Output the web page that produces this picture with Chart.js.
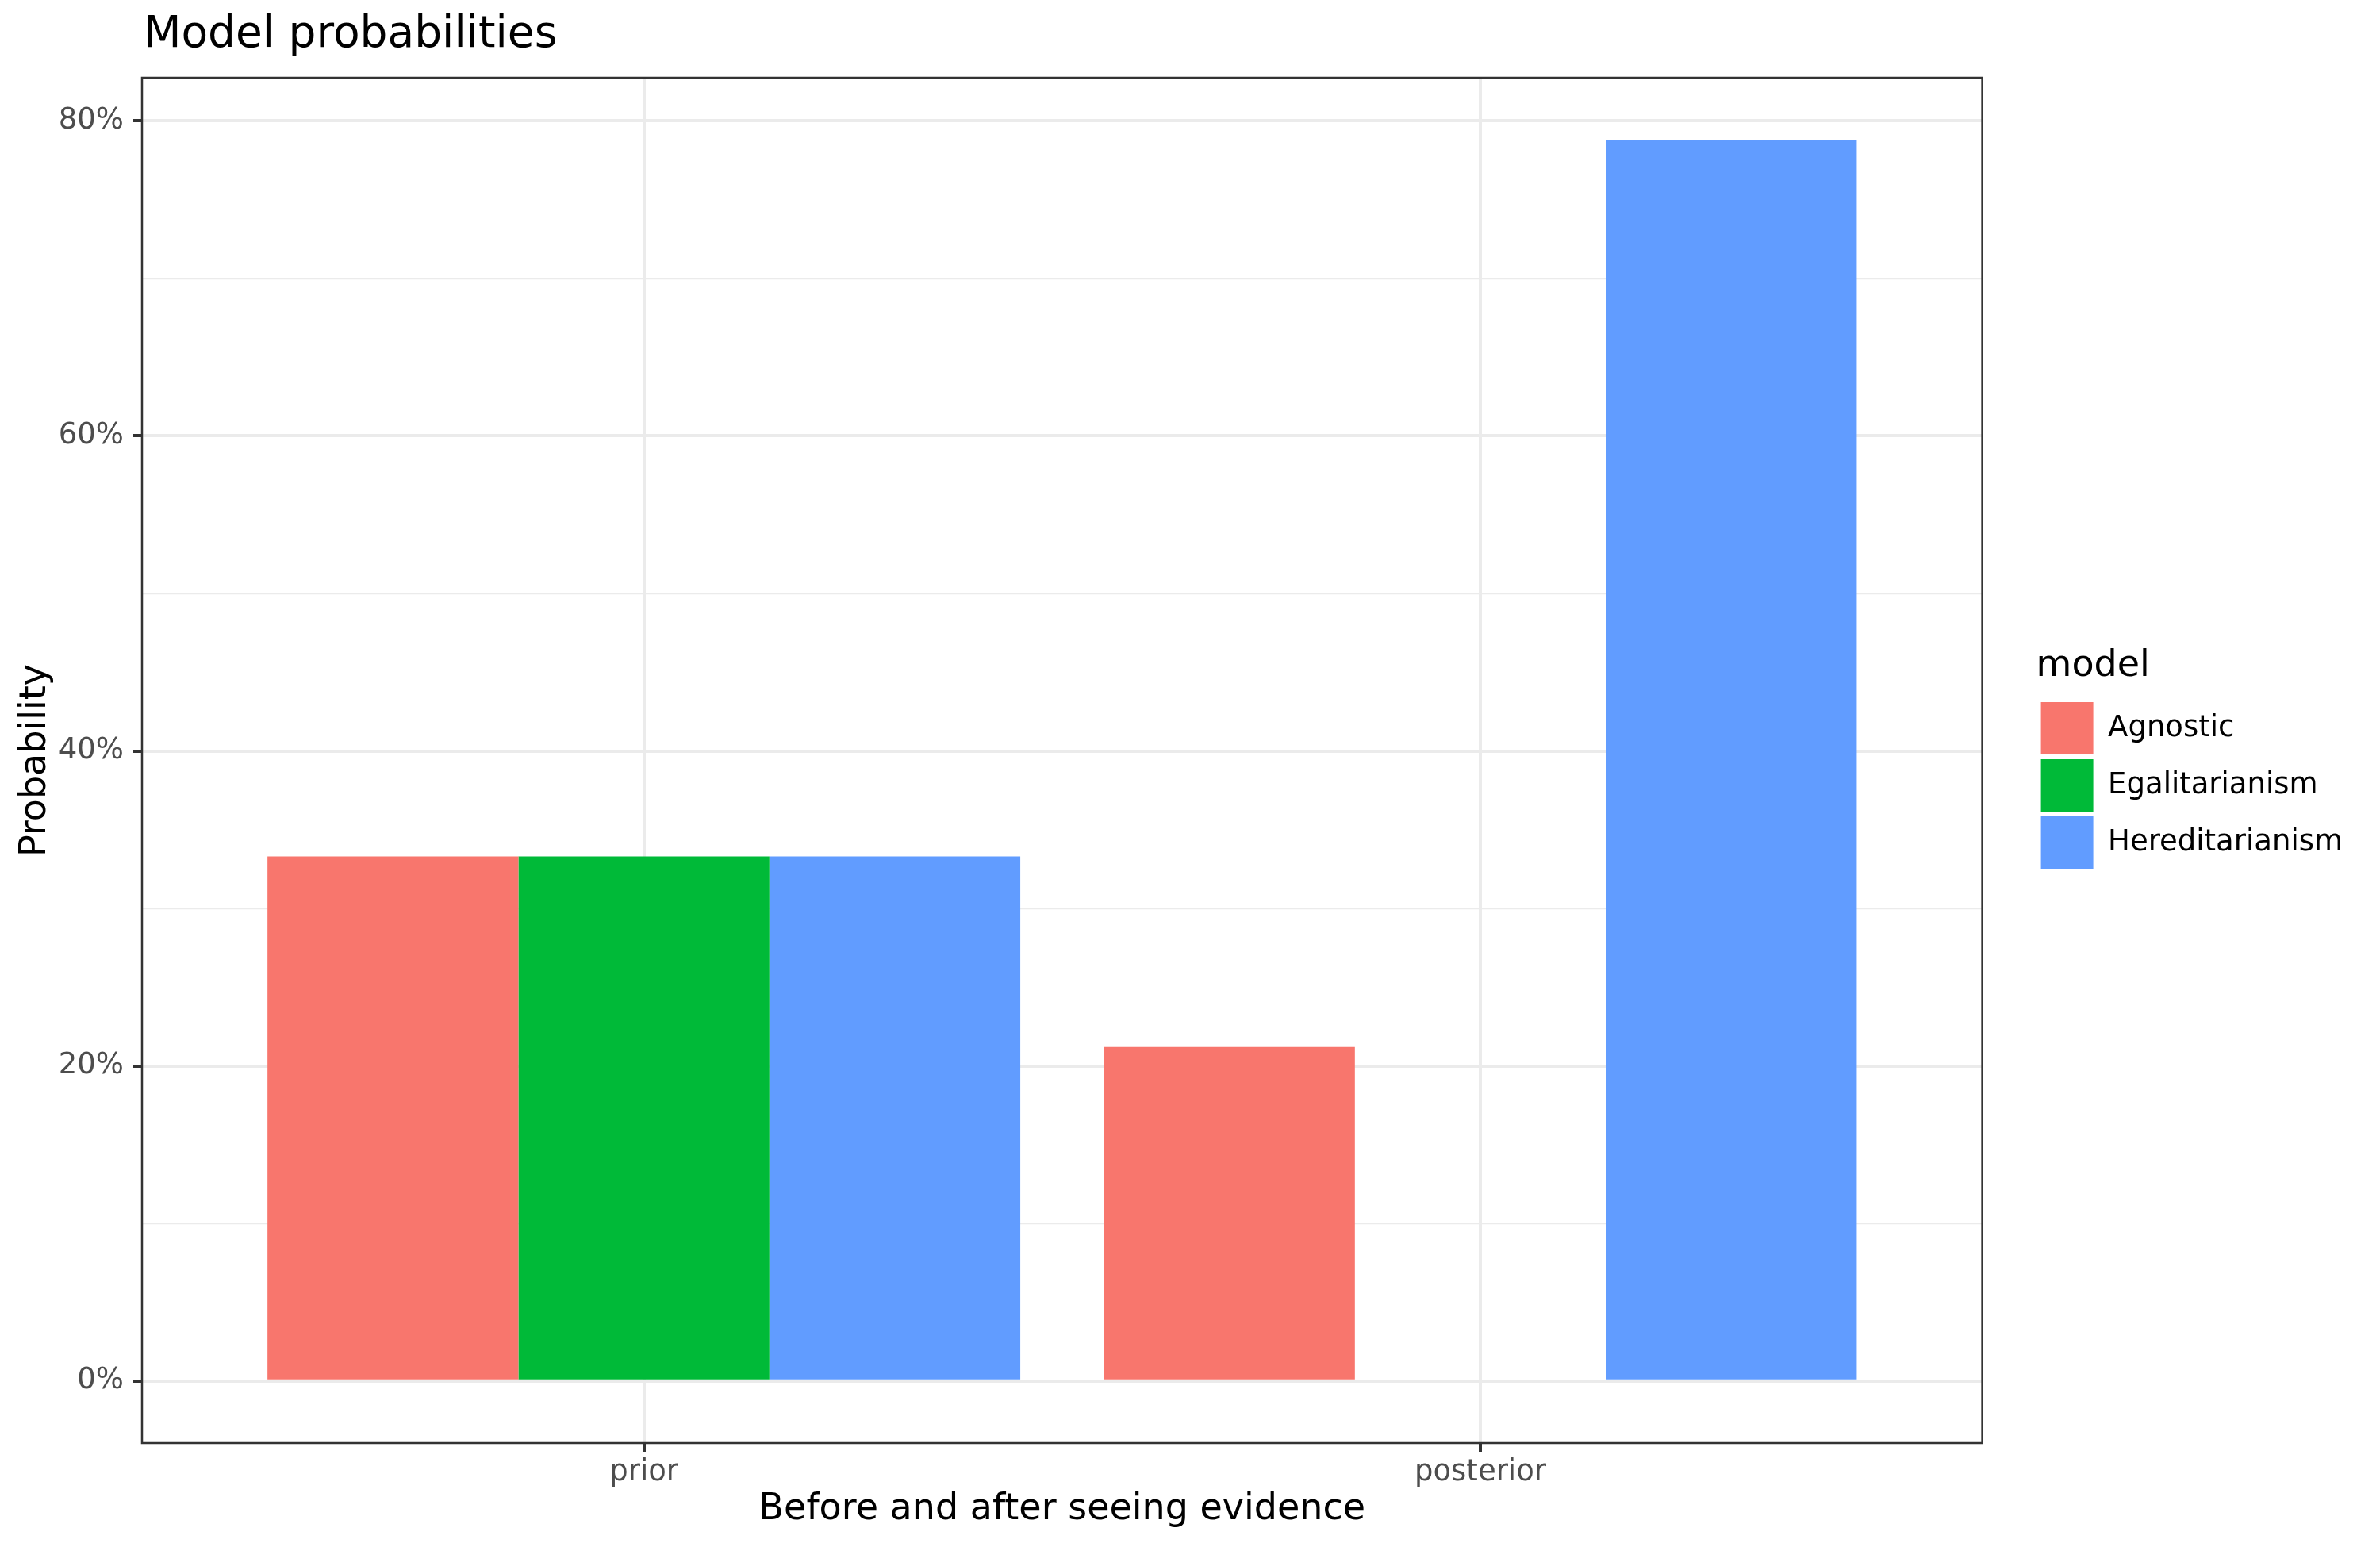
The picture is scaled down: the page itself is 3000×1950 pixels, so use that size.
<!DOCTYPE html>
<html>
<head>
<meta charset="utf-8">
<script src="https://cdn.jsdelivr.net/npm/chart.js@4.4.1/dist/chart.umd.min.js"></script>
<style>
  html, body { margin: 0; padding: 0; background: #ffffff; }
  #wrap { width: 3000px; height: 1950px; }
</style>
</head>
<body>
<div id="wrap"><canvas id="probChart"></canvas></div>
<script>
// data
const stages = ["prior", "posterior"];
const models = ["Agnostic", "Egalitarianism", "Hereditarianism"];
const agnostic = [0.333, 0.212];
const egalitarianism = [0.333, 0.0];
const hereditarianism = [0.333, 0.788];
const yTicks = [0, 0.1, 0.2, 0.3, 0.4, 0.5, 0.6, 0.7, 0.8];

const modelColors = ["#F8766D", "#00BA38", "#619CFF"];
const seriesValues = [agnostic, egalitarianism, hereditarianism];

const FONT = "'DejaVu Sans', sans-serif";
const GRID = "#EBEBEB";
const DARK = "#333333";

// ggplot-like limits: 5% expansion on y, 0.6 units on the discrete x
const yMax = Math.max(...seriesValues.flat());
const ySpan = yMax - 0;

const toPoints = (vals) => vals.map((v, i) => ({ x: i + 1, y: v }));

const isMajor = (ctx) => Math.round(ctx.tick.value * 100) % 20 === 0;

const panelPlugin = {
  id: "panelPlugin",
  afterLayout(chart) {
    const area = chart.chartArea;
    if (chart.titleBlock) {
      const w = chart.titleBlock.right - chart.titleBlock.left;
      chart.titleBlock.left = area.left + 2;
      chart.titleBlock.right = area.left + 2 + w;
    }
    if (chart.legend) {
      const w = chart.legend.right - chart.legend.left;
      chart.legend.left = area.right + 68;
      chart.legend.right = chart.legend.left + w;
      chart.legend.top -= 18;
      chart.legend.bottom -= 18;
    }
  },
  afterDatasetsDraw(chart) {
    const { ctx, chartArea: a } = chart;
    ctx.save();
    ctx.strokeStyle = DARK;
    ctx.lineWidth = 2.5;
    ctx.strokeRect(a.left, a.top, a.right - a.left, a.bottom - a.top);
    ctx.restore();
  },
};

let ctx = document.getElementById("probChart").getContext("2d");

window.probChart = new Chart(ctx, {
  type: "bar",
  data: {
    datasets: models.map((m, i) => ({
      label: m,
      data: toPoints(seriesValues[i]),
      backgroundColor: modelColors[i],
      borderWidth: 0,
      categoryPercentage: 0.9,
      barPercentage: 1.0,
    })),
  },
  plugins: [panelPlugin],
  options: {
    responsive: true,
    maintainAspectRatio: false,
    devicePixelRatio: 1,
    animation: false,
    layout: {
      padding: { top: 0, left: 0, right: 105, bottom: 0 },
    },
    scales: {
      x: {
        type: "linear",
        offset: false,
        min: 1 - 0.6,
        max: stages.length + 0.6,
        afterBuildTicks: (scale) => {
          scale.ticks = stages.map((s, i) => ({ value: i + 1 }));
        },
        afterFit: (scale) => {
          scale.height = 131;
        },
        border: { display: false },
        grid: {
          offset: false,
          color: GRID,
          lineWidth: 4,
          tickColor: DARK,
          tickWidth: 4,
          tickLength: 11,
        },
        ticks: {
          autoSkip: false,
          maxRotation: 0,
          padding: 4,
          color: "#4D4D4D",
          font: { family: FONT, size: 37 },
          callback: (value) => stages[Math.round(value) - 1] || "",
        },
        title: {
          display: true,
          text: "Before and after seeing evidence",
          color: "#000000",
          font: { family: FONT, size: 46 },
          padding: { top: 0, bottom: 19 },
        },
      },
      y: {
        type: "linear",
        min: 0 - ySpan * 0.05,
        max: yMax + ySpan * 0.05,
        afterBuildTicks: (scale) => {
          scale.ticks = yTicks.map((v) => ({ value: v }));
        },
        afterFit: (scale) => {
          scale.width = 179;
        },
        border: { display: false },
        grid: {
          color: GRID,
          lineWidth: (c) => (isMajor(c) ? 4 : 2.2),
          tickColor: (c) => (isMajor(c) ? DARK : "rgba(0,0,0,0)"),
          tickWidth: 4,
          tickLength: 11,
        },
        ticks: {
          autoSkip: false,
          padding: 12,
          color: "#4D4D4D",
          font: { family: FONT, size: 37 },
          callback: (value) =>
            Math.round(value * 100) % 20 === 0 ? Math.round(value * 100) + "%" : "",
        },
        title: {
          display: true,
          text: "Probability",
          color: "#000000",
          font: { family: FONT, size: 46 },
          padding: { top: 17, bottom: 0 },
        },
      },
    },
    plugins: {
      title: {
        display: true,
        text: "Model probabilities",
        align: "start",
        color: "#000000",
        font: { family: FONT, size: 55, weight: "normal" },
        padding: { top: 12, bottom: 20 },
      },
      legend: {
        display: true,
        position: "right",
        align: "center",
        title: {
          display: true,
          position: "start",
          text: "model",
          color: "#000000",
          font: { family: FONT, size: 46 },
          padding: { top: 4, bottom: 7 },
        },
        labels: {
          boxWidth: 66,
          boxHeight: 66,
          padding: 6,
          color: "#000000",
          font: { family: FONT, size: 37 },
        },
      },
      tooltip: { enabled: false },
    },
  },
});
</script>
</body>
</html>
